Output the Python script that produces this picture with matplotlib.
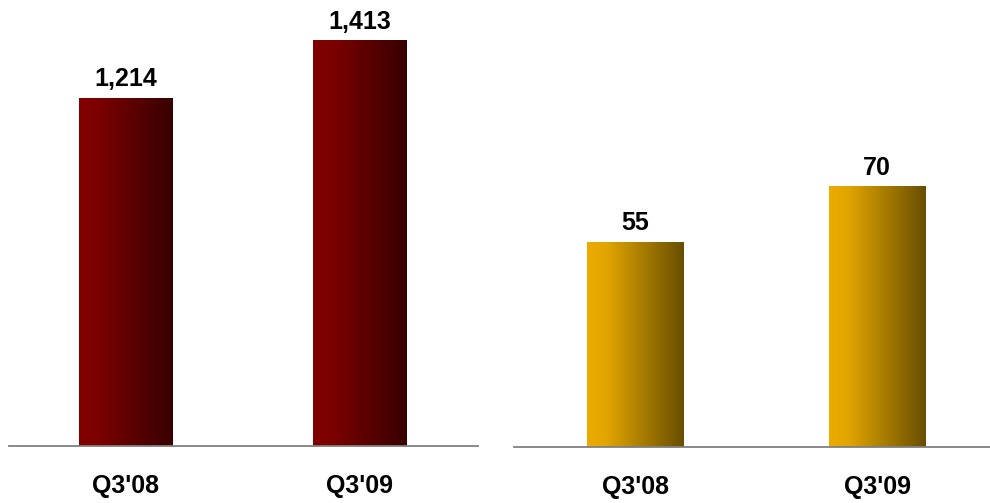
import numpy as np
import matplotlib.pyplot as plt
from matplotlib.colors import LinearSegmentedColormap

plt.rcParams['font.family'] = ['Liberation Sans', 'DejaVu Sans']

# data
quarters = ["Q3'08", "Q3'09"]
left_values = [1214, 1413]
right_values = [55, 70]
left_labels = ['1,214', '1,413']
right_labels = ['55', '70']

red_cmap = LinearSegmentedColormap.from_list(
    'red', [(0, '#820000'), (0.2, '#7c0000'), (1, '#380000')])
gold_cmap = LinearSegmentedColormap.from_list(
    'gold', [(0, '#ecab00'), (0.2, '#e2a500'), (1, '#684e00')])

fig = plt.figure(figsize=(9.9, 5.03), dpi=100)
ax1 = fig.add_axes([9 / 990, 57 / 503, 469 / 990, 446 / 503])
ax2 = fig.add_axes([514 / 990, 56 / 503, 476 / 990, 447 / 503])


def gradient_bars(ax, values, labels, cmap, ymax, xmax):
    width = 0.4
    grad = np.linspace(0, 1, 256).reshape(1, -1)
    x = np.arange(len(values))
    for xi, v, lab in zip(x, values, labels):
        ax.imshow(grad, extent=[xi - width / 2, xi + width / 2, 0, v],
                  aspect='auto', cmap=cmap, zorder=2)
        ax.text(xi, v + ymax * 0.016, lab, ha='center', va='bottom',
                fontsize=18, fontweight='bold', color='black')
    ax.set_xlim(-0.5, xmax)
    ax.set_ylim(0, ymax)
    for s in ['top', 'right', 'left']:
        ax.spines[s].set_visible(False)
    ax.spines['bottom'].set_color('#808080')
    ax.spines['bottom'].set_linewidth(1.3)
    ax.set_yticks([])
    ax.set_xticks(x)
    ax.set_xticklabels(quarters, fontsize=18, fontweight='bold')
    ax.tick_params(axis='x', length=0, pad=20)
    ax.patch.set_alpha(0)


gradient_bars(ax1, left_values, left_labels, red_cmap, 1556, 1.507)
gradient_bars(ax2, right_values, right_labels, gold_cmap, 120.2, 1.466)

fig.savefig('out.png', dpi=100)
